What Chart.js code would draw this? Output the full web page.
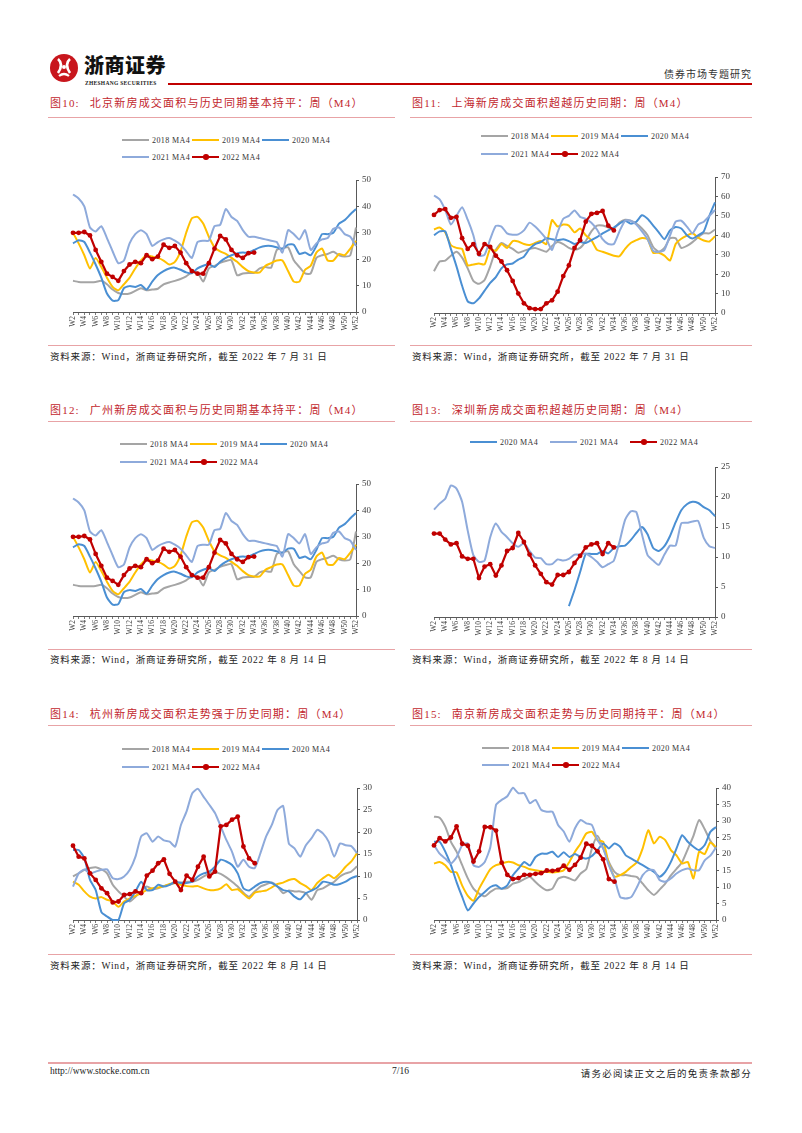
<!DOCTYPE html>
<html>
<head>
<meta charset="utf-8">
<script src="https://cdn.jsdelivr.net/npm/chart.js@4.4.1/dist/chart.umd.min.js"></script>
<style>
body { margin: 0; background: #fff; width: 802px; height: 1133px; position: relative; overflow: hidden;
       font-family: "Liberation Serif", "Noto Sans CJK SC", serif; }
.abs { position: absolute; }
.brand { font-family: "Noto Sans CJK SC"; font-weight: 900; font-size: 20px; letter-spacing: 0.5px; color: #111; }
.brand-en { font-size: 5.5px; font-weight: bold; letter-spacing: 0.3px; color: #222; }
.section { font-size: 10px; letter-spacing: 1px; color: #333; white-space: nowrap; }
.title { color: #c2272d; font-size: 11px; letter-spacing: 1.2px; white-space: nowrap; line-height: 14px; }
.title .num { margin-right: 10px; }
.rule { height: 1.3px; background: #e8a3a6; }
.src { font-size: 9.5px; letter-spacing: 0.8px; color: #222; white-space: nowrap; line-height: 12px; }
.legend-item { height: 12px; white-space: nowrap; font-size: 8px; letter-spacing: 0.4px; color: #333; line-height: 12px; }
.swatch { display: inline-block; width: 27px; height: 2.5px; vertical-align: middle; position: relative; margin-right: 3px; top: -1px; }
.dot { position: absolute; left: 11px; top: -1.5px; width: 5.5px; height: 5.5px; border-radius: 50%; }
.foot { font-size: 9.5px; color: #222; white-space: nowrap; }
</style>
</head>
<body>

<svg class="abs" style="left:49px;top:53px" width="30" height="30" viewBox="0 0 30 30">
  <circle cx="15" cy="15" r="14" fill="#c8161d"/>
  <path d="M9 6 Q15 11 9 20 M21 6 Q15 11 21 20" stroke="#fff" stroke-width="2.6" fill="none"/>
  <path d="M10 23 Q15 19 20 23" stroke="#fff" stroke-width="2.2" fill="none"/>
  <circle cx="15" cy="14" r="2" fill="#fff"/>
</svg>
<div class="abs brand" style="left:84px;top:50px">浙商证券</div>
<div class="abs brand-en" style="left:85px;top:80px">ZHESHANG SECURITIES</div>
<div class="abs" style="left:168px;top:83px;width:584px;height:2px;background:#c00000"></div>
<div class="abs section" style="right:50px;top:66px">债券市场专题研究</div>

<canvas id="c10" class="abs"></canvas>
<canvas id="c11" class="abs"></canvas>
<canvas id="c12" class="abs"></canvas>
<canvas id="c13" class="abs"></canvas>
<canvas id="c14" class="abs"></canvas>
<canvas id="c15" class="abs"></canvas>

<div class="abs" style="left:48px;top:1062px;width:704px;height:1.5px;background:#e8a3a6"></div>
<div class="abs foot" style="left:50px;top:1066px">http://www.stocke.com.cn</div>
<div class="abs foot" style="left:392px;top:1066px">7/16</div>
<div class="abs foot" style="right:50px;top:1066px;letter-spacing:1.2px">请务必阅读正文之后的免责条款部分</div>

<script>
const weeks = ['W2', 'W3', 'W4', 'W5', 'W6', 'W7', 'W8', 'W9', 'W10', 'W11', 'W12', 'W13', 'W14', 'W15', 'W16', 'W17',
    'W18', 'W19', 'W20', 'W21', 'W22', 'W23', 'W24', 'W25', 'W26', 'W27', 'W28', 'W29', 'W30', 'W31', 'W32', 'W33',
    'W34', 'W35', 'W36', 'W37', 'W38', 'W39', 'W40', 'W41', 'W42', 'W43', 'W44', 'W45', 'W46', 'W47', 'W48', 'W49',
    'W50', 'W51', 'W52'];

// 北京
const bj2018 = [11.8, 11.4, 11.3, 11.3, 11.4, 11.8, 10.5, 8.5, 7.2, 6.8, 7, 8, 9, 8.2, 8.5, 8.8, 10.5, 11.2, 11.8, 12.5,
    13.5, 15, 15, 11.5, 16.5, 17.5, 18.6, 19.3, 19.6, 13.9, 14.6, 14.8, 14.8, 16.5, 17, 16.8, 23.5, 24, 24.5, 19.6,
    17, 14.6, 14.6, 20.5, 21.5, 22, 22.8, 21.5, 21, 21.5, 32];
const bj2019 = [30, 26, 21.5, 16.5, 20.5, 17, 13, 9.5, 8.2, 10.5, 13, 16.5, 19.5, 21.5, 21, 20.5, 19.5, 18, 19, 23,
    30, 35.5, 36, 33.5, 28.5, 24.5, 23, 22, 20.5, 19, 17, 15.5, 15, 15, 17.5, 18.5, 19.5, 19.5, 15.5, 11.5,
    11.5, 16, 17.5, 22.5, 24, 19.5, 19.5, 22, 21.5, 24, 27];
const bj2020 = [26, 27.2, 26.5, 22.5, 18, 13, 7, 4.3, 4.5, 9, 9.8, 9.5, 10.2, 8.5, 11.5, 14, 15.5, 16.5, 16.8, 16,
    15, 14.7, 16.5, 17.5, 18.2, 17, 19, 20.5, 21.5, 22.2, 22.5, 22.5, 23.5, 24.5, 25, 25, 24.5, 24, 25.5, 25.5,
    22, 22.5, 21.5, 25, 29.5, 29.5, 30, 33.5, 34.8, 37, 39];
const bj2021 = [44.5, 43, 40, 32, 30.5, 32.5, 28, 23, 18.5, 19.5, 26, 29.5, 31, 29.5, 25, 26.5, 27.5, 28, 27, 25.5,
    23, 20.5, 26.5, 27, 27, 32.5, 33, 39, 36, 34.5, 31, 28.5, 28.5, 28, 27.5, 27, 26.5, 22.5, 31, 29.5,
    27.5, 31, 23.5, 26, 27.5, 28, 31.5, 32, 29.5, 28.5, 25];
const bj2022 = [30, 30, 30.3, 29, 23.5, 19, 14.5, 13.3, 11.8, 15.5, 18, 19, 18.5, 21.5, 20, 21, 25.5, 24.3, 25, 22.5,
    18.5, 15.5, 14.5, 14.5, 18.5, 24, 28.8, 27.5, 23.5, 21.5, 20.5, 22.3, 22.5];

// 上海
const sh2018 = [21.5, 26.5, 27, 29.5, 31.5, 28.5, 23, 16.5, 15, 17, 24, 32.5, 36, 34.5, 33, 31, 32, 33, 33.5, 32.5,
    31.5, 34.5, 36.5, 35.5, 33.5, 32.5, 33.5, 37, 42, 45, 45, 44, 43.5, 46.5, 48, 47.5, 46, 43.5, 40, 34,
    31.5, 33.5, 38.5, 38.5, 33.5, 34.5, 36.5, 39, 41, 41, 43];
const sh2019 = [43, 44, 41.5, 35, 33.5, 33, 24.5, 25, 25.5, 25, 33, 32, 35.5, 33.5, 37, 36.8, 35.5, 35, 36, 37,
    35.5, 47.8, 44.5, 45.5, 45, 41.5, 43.5, 40, 37.5, 32.5, 31.5, 30.5, 29.5, 29.2, 33, 36, 37.5, 38.6, 38, 31,
    31, 29.5, 27, 35.5, 38.2, 39.8, 41, 38.8, 37.3, 36.8, 39.5];
const sh2020 = [40, 42, 42, 33, 24, 14, 6, 5, 7.5, 11.5, 15.5, 18.5, 23, 25, 25.5, 27.5, 29, 33, 35.5, 36.5,
    38.5, 38, 37.5, 38, 37, 35.5, 36.5, 36, 37.5, 39, 41, 42.5, 44, 46, 47.5, 46, 47, 50.3, 48.5, 45,
    41.5, 38, 42.5, 44.3, 43.5, 40, 38.3, 40, 42, 50, 57];
const sh2021 = [60.5, 58.5, 53, 45.5, 50, 54.5, 48, 40, 29.5, 30, 38, 44.8, 44.5, 41, 40.3, 40.5, 42.5, 46.5, 44.5, 41.5,
    38, 32.5, 41.5, 48.5, 50, 52.8, 49.5, 48.5, 46.5, 43, 38, 35.5, 35.5, 42, 47.5, 47.5, 45.5, 42, 38, 32,
    31.5, 32.5, 40, 47, 47.5, 44.5, 41, 45.5, 47, 50, 53];
const sh2022 = [50.5, 53, 53.5, 49, 49.5, 38.5, 33, 35.5, 30.5, 35.5, 34, 29.5, 26.5, 22, 16.5, 10, 5, 2.5, 2, 2,
    5, 6.5, 11, 19, 24.5, 33.5, 37.5, 47, 51, 51.5, 52.5, 45, 42.5];

// 广州 (the source page repeats the Beijing lines in this panel)
const gz2018 = [...bj2018];
const gz2019 = [...bj2019];
const gz2020 = [...bj2020];
const gz2021 = [...bj2021];
const gz2022 = [...bj2022];

// 深圳
const sz2020 = [null, null, null, null, null, null, null, null, null, null, null, null, null, null, null, null,
    null, null, null, null, null, null, null, null,
    1.8, 4.5, 7.5, 10.5, 10.5, 10.5, 11, 10.6, 11.5, 11.8, 11.9, 12.8, 14, 15, 13.8, 11.5,
    11, 11.8, 13.5, 15.8, 17.8, 18.8, 19.2, 19, 18.3, 17.8, 16.8];
const sz2021 = [17.9, 18.9, 19.7, 21.9, 21.4, 19.2, 14.4, 10.3, 9.2, 9.4, 13.3, 15.6, 14.2, 13.3, 12.3, 11.7, 12.3, 11, 9.9, 9.8,
    8.8, 8.8, 9.6, 9.4, 9.7, 10.4, 10.4, 10.6, 10, 9.2, 8.3, 8.8, 9.4, 12.5, 16.2, 17.6, 17.5, 13.8, 10.3, 9.4,
    8.7, 10.4, 11.9, 11.9, 15.6, 15.7, 15.9, 16, 13.2, 11.8, 11.5];
const sz2022 = [13.9, 13.9, 12.9, 12.1, 12.3, 10.1, 9.7, 9.7, 6.5, 8.4, 8.8, 6.9, 8.6, 11, 11.5, 14, 12.5, 10.4, 8.6, 7.2,
    5.8, 5.4, 7, 7, 7.5, 9, 10.2, 11.6, 12.1, 12.3, 10.5, 12.3, 11.6];

// 杭州
const hz2018 = [9.9, 10.6, 11.4, 11.8, 12, 11.5, 10.6, 8, 6.5, 5.3, 4.2, 5.3, 6.5, 7.6, 7, 7.2, 7.7, 8, 8.4, 8.5,
    8.7, 8.7, 9.1, 9.9, 10.6, 10.8, 10.5, 9.7, 8.7, 7.6, 6.2, 5.3, 6.5, 7.6, 8.1, 8.5, 7.6, 6.1, 6.7, 6.5,
    6.5, 6.1, 4.6, 6.8, 7.2, 8, 8.7, 9.9, 10.6, 11, 12.2];
const hz2019 = [8.7, 8, 6.5, 5.3, 4.9, 5.2, 4.6, 4.2, 3, 4.2, 4.9, 5.5, 6.1, 6.8, 7.2, 7.4, 7.7, 8.2, 8.4, 8,
    7.7, 7.6, 7.7, 7.2, 6.8, 6.8, 7.2, 8.1, 6.8, 7, 5.9, 4.9, 6.2, 6.5, 6.7, 7.4, 8.2, 8.5, 9.1, 9.3,
    8.4, 7.7, 6.8, 8.4, 9.5, 10.3, 9.5, 10.6, 12.1, 13.3, 15.2];
const hz2020 = [15.9, 15.9, 14, 9.1, 6.8, 1.8, 0.8, 0, 0, 3.8, 4.6, 6.5, 8.7, 6.8, 6.8, 8, 7.6, 8, 8.7, 8.4,
    8.4, 8.7, 9.9, 10.6, 11, 12.1, 13.7, 13.3, 12.5, 10.6, 7.2, 6.7, 7.6, 8.4, 8.7, 8.4, 7.6, 6.8, 6.5, 5.3,
    4.7, 6.1, 6.7, 7.4, 8.7, 8.5, 8, 8.2, 8.7, 9.5, 10];
const hz2021 = [7.6, 10.6, 11.5, 10.6, 11, 11.4, 11.5, 9.5, 9.3, 9.9, 11.4, 14.4, 19, 19.7, 17.8, 19, 18.1, 17.8, 16.7, 21.6,
    24.7, 28.8, 29.8, 28, 26.2, 24.3, 21.3, 18.2, 15.5, 12.1, 13.7, 12.1, 11.8, 15.2, 19, 21.6, 25, 25.9, 17.4, 16.3,
    14.4, 17, 18.6, 20.5, 19.7, 17.8, 14.4, 17.4, 17, 16.8, 15.2];
const hz2022 = [16.9, 14.4, 14, 10.6, 9.1, 7.2, 6.1, 4, 4.2, 5.7, 5.9, 6.5, 6.1, 10.1, 11.2, 12.9, 13.8, 10.5, 8.7, 6.8,
    10.1, 9.1, 12.1, 14.4, 9.9, 11, 21.3, 21.6, 22.8, 23.5, 16.7, 14, 12.9];

// 南京
const nj2018 = [31.3, 31, 28.3, 23.7, 20.7, 16.6, 12.6, 9.5, 8, 7.2, 8.5, 9.5, 9.5, 9.7, 11, 11.5, 12.4, 13.1, 11.5, 10,
    9, 9.5, 12.5, 13.1, 12.6, 12, 14.1, 15.4, 21.7, 25.5, 21.7, 17.6, 14.6, 13.6, 13.6, 13.3, 13, 11, 9, 7.6,
    9.2, 11, 13.5, 15.5, 17.6, 21.5, 25.5, 30.3, 27.5, 24, 21.7];
const nj2019 = [17.1, 17.6, 16.6, 14.6, 14.4, 10.4, 7.3, 5.8, 9.5, 12.6, 15.4, 16.6, 17.1, 17.6, 17.4, 16.6, 16.1, 15.4, 15.1, 14.8,
    14.6, 14.4, 14.6, 15.1, 17.6, 20.7, 23.2, 26.2, 26.7, 24.2, 23.7, 17.1, 13.1, 13.6, 14.6, 16.1, 17.6, 21.7, 27.2, 23.2,
    25.2, 24.2, 21.2, 19.6, 17.1, 17.6, 12.6, 20.7, 20, 23.5, 22];
const nj2020 = [23.7, 23.7, 20.7, 16.6, 11.5, 7, 2.9, 5, 7, 8.5, 10, 10.5, 9.5, 10.5, 13.6, 15.6, 17.6, 16.5, 19.1, 20.1,
    20.1, 20.7, 19.1, 20.5, 19.1, 20, 19.1, 18.6, 19.4, 21.2, 23.2, 21.7, 23.2, 22.2, 19.6, 18.6, 17.6, 16.6, 15.6, 14.6,
    13.1, 14.6, 17.6, 21.7, 25.7, 23.7, 22.2, 21.2, 22.7, 26.7, 28.2];
const nj2021 = [22.7, 20.1, 18.6, 17.1, 19, 22.7, 23.2, 16.6, 16.1, 17.6, 22.2, 34.9, 36.4, 37.5, 40.1, 38.4, 38.4, 35.4, 36.4, 33.4,
    32.8, 32.8, 28.8, 26.8, 23.7, 27.8, 30.3, 29.3, 28.8, 24.2, 21.7, 16.6, 12.6, 7, 6.5, 7, 10, 13.6, 15.1, 15.1,
    12.1, 11.6, 12.6, 14.1, 15.1, 15.6, 15.1, 15.1, 18.1, 19.5, 22];
const nj2022 = [22.6, 24.8, 23.8, 25, 28.4, 23.1, 22.5, 17.7, 20.8, 28.2, 28.1, 27.1, 17.4, 13.7, 12.4, 12.7, 13.7, 13.7, 14, 14.2,
    15, 14.9, 15.2, 16.5, 15.2, 16.7, 18.9, 23.1, 22.5, 20.8, 18.4, 12.4, 11.6];

// y axis: [min, max, step]
const bjAxis = [0, 50, 10];
const shAxis = [0, 70, 10];
const gzAxis = [0, 50, 10];
const szAxis = [0, 25, 5];
const hzAxis = [0, 30, 5];
const njAxis = [0, 40, 5];

const lineColors = {
    '2018 MA4': '#a5a5a5',
    '2019 MA4': '#ffc000',
    '2020 MA4': '#4a8fd3',
    '2021 MA4': '#8eaadb',
    '2022 MA4': '#c00000'
};
const drawOrder = { '2018 MA4': 5, '2019 MA4': 4, '2020 MA4': 3, '2021 MA4': 2, '2022 MA4': 1 };

const rows = [
    { title: 103, rule: 117, srcRule: 345, src: 357 },
    { title: 410, rule: 421, srcRule: 649, src: 660 },
    { title: 714, rule: 725, srcRule: 954, src: 966 }
];
const cols = [{ x: 48, w: 347 }, { x: 410, w: 342 }];

const srcJul = '资料来源：Wind，浙商证券研究所，截至 2022 年 7 月 31 日';
const srcAug = '资料来源：Wind，浙商证券研究所，截至 2022 年 8 月 14 日';

const panels = [
    { id: 'c10', num: '图10:', text: '北京新房成交面积与历史同期基本持平：周（M4）', src: srcJul, row: 0, col: 0,
      series: [['2018 MA4', bj2018], ['2019 MA4', bj2019], ['2020 MA4', bj2020], ['2021 MA4', bj2021], ['2022 MA4', bj2022]],
      axis: bjAxis, plot: [73, 180, 356, 312], legend: [122, 141, 158], pitch: 70, perRow: 3 },
    { id: 'c11', num: '图11:', text: '上海新房成交面积超越历史同期：周（M4）', src: srcJul, row: 0, col: 1,
      series: [['2018 MA4', sh2018], ['2019 MA4', sh2019], ['2020 MA4', sh2020], ['2021 MA4', sh2021], ['2022 MA4', sh2022]],
      axis: shAxis, plot: [434, 177, 715, 313], legend: [481, 137, 155], pitch: 70, perRow: 3 },
    { id: 'c12', num: '图12:', text: '广州新房成交面积与历史同期基本持平：周（M4）', src: srcAug, row: 1, col: 0,
      series: [['2018 MA4', gz2018], ['2019 MA4', gz2019], ['2020 MA4', gz2020], ['2021 MA4', gz2021], ['2022 MA4', gz2022]],
      axis: gzAxis, plot: [73, 484, 356, 616], legend: [120, 445, 463], pitch: 70, perRow: 3 },
    { id: 'c13', num: '图13:', text: '深圳新房成交面积超越历史同期：周（M4）', src: srcAug, row: 1, col: 1,
      series: [['2020 MA4', sz2020], ['2021 MA4', sz2021], ['2022 MA4', sz2022]],
      axis: szAxis, plot: [434, 467, 715, 617], legend: [470, 443], pitch: 80, perRow: 3 },
    { id: 'c14', num: '图14:', text: '杭州新房成交面积走势强于历史同期：周（M4）', src: srcAug, row: 2, col: 0,
      series: [['2018 MA4', hz2018], ['2019 MA4', hz2019], ['2020 MA4', hz2020], ['2021 MA4', hz2021], ['2022 MA4', hz2022]],
      axis: hzAxis, plot: [73, 788, 357, 920], legend: [122, 750, 768], pitch: 70, perRow: 3 },
    { id: 'c15', num: '图15:', text: '南京新房成交面积走势与历史同期持平：周（M4）', src: srcAug, row: 2, col: 1,
      series: [['2018 MA4', nj2018], ['2019 MA4', nj2019], ['2020 MA4', nj2020], ['2021 MA4', nj2021], ['2022 MA4', nj2022]],
      axis: njAxis, plot: [434, 788, 716, 920], legend: [482, 749, 766], pitch: 70, perRow: 3 }
];

function addDiv(cls, css, html) {
    const d = document.createElement('div');
    d.className = 'abs ' + cls;
    Object.assign(d.style, css);
    if (html !== undefined) d.innerHTML = html;
    document.body.appendChild(d);
    return d;
}

function makeDataset(label, data) {
    const color = lineColors[label];
    const isCurrent = label === '2022 MA4';
    return {
        label: label,
        data: data,
        borderColor: color,
        backgroundColor: color,
        borderWidth: isCurrent ? 2.2 : 2,
        pointRadius: isCurrent ? 2.4 : 0,
        pointBorderWidth: 0,
        pointBackgroundColor: color,
        tension: isCurrent ? 0 : 0.2,
        borderJoinStyle: 'round',
        order: drawOrder[label],
        clip: 6
    };
}

const padL = 18, padT = 10, axisW = 28, axisH = 28;
const axisColor = '#595959';
const tickFont = { family: 'Liberation Serif', size: 9 };

panels.forEach(p => {
    const row = rows[p.row], col = cols[p.col];
    addDiv('title', { left: (col.x + 2) + 'px', top: (row.title - 7) + 'px' },
        '<span class="num">' + p.num + '</span>' + p.text);
    addDiv('rule', { left: col.x + 'px', top: row.rule + 'px', width: col.w + 'px' });
    addDiv('rule', { left: col.x + 'px', top: row.srcRule + 'px', width: col.w + 'px' });
    addDiv('src', { left: (col.x + 2) + 'px', top: (row.src - 6) + 'px' }, p.src);

    const [pl, pt, pr, pb] = p.plot;
    const cx = pl - padL, cy = pt - padT;
    const cw = pr + axisW - cx, ch = pb + axisH - cy;
    const canvas = document.getElementById(p.id);
    canvas.width = cw;
    canvas.height = ch;
    canvas.style.left = cx + 'px';
    canvas.style.top = cy + 'px';

    const chart = new Chart(canvas.getContext('2d'), {
        type: 'line',
        data: {
            labels: weeks,
            datasets: p.series.map(s => makeDataset(s[0], s[1]))
        },
        options: {
            responsive: false,
            animation: false,
            events: [],
            layout: { padding: { left: padL, top: padT, right: 0, bottom: 0 } },
            plugins: { legend: { display: false }, tooltip: { enabled: false } },
            scales: {
                x: {
                    offset: false,
                    grid: { display: true, drawOnChartArea: false, tickLength: 3, color: axisColor, lineWidth: 0.8 },
                    border: { display: true, color: axisColor, width: 1 },
                    ticks: {
                        autoSkip: false, minRotation: 90, maxRotation: 90, padding: 1,
                        color: '#404040', font: { family: 'Liberation Serif', size: 7.5 },
                        callback: (v, i) => (i % 2 === 0 ? weeks[i] : '')
                    },
                    afterFit: scale => { scale.height = axisH; }
                },
                y: {
                    position: 'right',
                    min: p.axis[0], max: p.axis[1],
                    grid: { display: true, drawOnChartArea: false, tickLength: 3, color: axisColor },
                    border: { display: true, color: axisColor, width: 1 },
                    ticks: { stepSize: p.axis[2], padding: 3, color: '#404040', font: tickFont },
                    afterFit: scale => { scale.width = axisW; }
                }
            }
        }
    });

    // legend laid out like the source: three entries per row
    chart.data.datasets.forEach((ds, k) => {
        const r = Math.floor(k / p.perRow);
        const x = p.legend[0] + (k % p.perRow) * p.pitch;
        const y = p.legend[1 + r] - 6;
        const dot = ds.pointRadius > 0 ? '<span class="dot" style="background:' + ds.borderColor + '"></span>' : '';
        addDiv('legend-item', { left: x + 'px', top: y + 'px' },
            '<span class="swatch" style="background:' + ds.borderColor + '">' + dot + '</span>' + ds.label);
    });
});
</script>
</body>
</html>
